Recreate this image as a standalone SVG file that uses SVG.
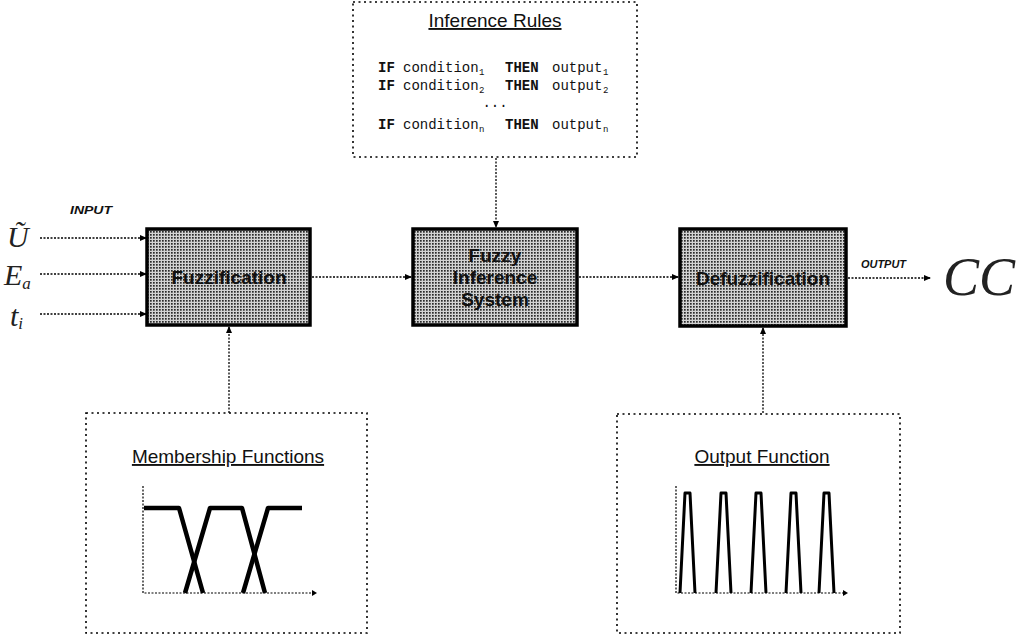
<svg xmlns="http://www.w3.org/2000/svg" width="1019" height="640" viewBox="0 0 1019 640">
<defs>
<pattern id="dots" width="3" height="3" patternUnits="userSpaceOnUse">
<rect width="3" height="3" fill="#d2d2d2"/>
<rect width="1.7" height="1.7" fill="#2a2a2a"/>
</pattern>
<marker id="arr" markerWidth="8" markerHeight="8" refX="6" refY="4" orient="auto" markerUnits="userSpaceOnUse">
<path d="M0,1 L7,4 L0,7 Z" fill="#000"/>
</marker>
<style>
.blk{fill:url(#dots);stroke:#000;stroke-width:3.5}
.dbox{fill:#fff;stroke:#000;stroke-width:1.6;stroke-dasharray:2 3.5}
.conn{fill:none;stroke:#000;stroke-width:1.3;stroke-dasharray:2 1.5;marker-end:url(#arr)}
.lbl{font-family:"Liberation Sans",Arial,sans-serif;font-weight:bold;font-size:19px;fill:#111;text-anchor:middle}
.ttl{font-family:"Liberation Sans",Arial,sans-serif;font-size:19px;fill:#111;text-anchor:middle;text-decoration:underline}
.mono{font-family:"Liberation Mono","Courier New",monospace;font-size:14px;fill:#111}
.kw{font-weight:bold}
.sub{font-size:9px}
.tag{font-family:"Liberation Sans",Arial,sans-serif;font-weight:bold;font-style:italic;font-size:11px;fill:#111}
.math{font-family:"Liberation Serif","Times New Roman",serif;font-style:italic;fill:#222}
.axis{fill:none;stroke:#000;stroke-width:1.2;stroke-dasharray:2 1.5}
.curve{fill:none;stroke:#000;stroke-width:4.5;stroke-linejoin:round}
.spike{fill:none;stroke:#000;stroke-width:3;stroke-linejoin:round}
</style>
</defs>

<g id="connectors">
<line class="conn" x1="40" y1="238" x2="146" y2="238"/>
<line class="conn" x1="40" y1="274" x2="146" y2="274"/>
<line class="conn" x1="40" y1="314" x2="146" y2="314"/>
<line class="conn" x1="312" y1="277" x2="411" y2="277"/>
<line class="conn" x1="579" y1="277" x2="678" y2="277"/>
<line class="conn" x1="848" y1="278" x2="930" y2="278"/>
<line class="conn" x1="496" y1="158" x2="496" y2="227"/>
<line class="conn" x1="229" y1="413" x2="229" y2="327"/>
<line class="conn" x1="763" y1="413" x2="763" y2="328"/>
</g>

<g id="inference-rules">
<rect class="dbox" x="353" y="2" width="284" height="155"/>
<text class="ttl" x="495" y="27">Inference Rules</text>
<text class="mono" y="72"><tspan class="kw" x="378">IF</tspan><tspan x="403">condition</tspan><tspan class="sub" x="479" dy="3">1</tspan><tspan class="kw" x="505" dy="-3">THEN</tspan><tspan x="552">output</tspan><tspan class="sub" x="603" dy="3">1</tspan></text>
<text class="mono" y="90"><tspan class="kw" x="378">IF</tspan><tspan x="403">condition</tspan><tspan class="sub" x="479" dy="3">2</tspan><tspan class="kw" x="505" dy="-3">THEN</tspan><tspan x="552">output</tspan><tspan class="sub" x="603" dy="3">2</tspan></text>
<text class="mono" x="495" y="107" text-anchor="middle" font-size="9">...</text>
<text class="mono" y="129"><tspan class="kw" x="378">IF</tspan><tspan x="403">condition</tspan><tspan class="sub" x="479" dy="3">n</tspan><tspan class="kw" x="505" dy="-3">THEN</tspan><tspan x="552">output</tspan><tspan class="sub" x="603" dy="3">n</tspan></text>
</g>

<g id="inputs">
<text class="tag" x="70" y="214" textLength="42" lengthAdjust="spacingAndGlyphs">INPUT</text>
<text class="math" x="7" y="247" font-size="30">Ũ</text>
<text class="math" x="4" y="285" font-size="30">E<tspan font-size="17" dy="4">a</tspan></text>
<text class="math" x="10" y="326" font-size="30">t<tspan font-size="17" dy="3">i</tspan></text>
</g>

<g id="fuzzification">
<rect class="blk" x="147" y="229" width="163" height="96"/>
<text class="lbl" x="229" y="284">Fuzzification</text>
</g>

<g id="fuzzy-inference-system">
<rect class="blk" x="413" y="229" width="164" height="96"/>
<text class="lbl" x="495" y="262">Fuzzy</text>
<text class="lbl" x="495" y="284">Inference</text>
<text class="lbl" x="495" y="306">System</text>
</g>

<g id="defuzzification">
<rect class="blk" x="680" y="229" width="166" height="97"/>
<text class="lbl" x="763" y="285">Defuzzification</text>
</g>

<g id="output">
<text class="tag" x="861" y="268" textLength="45" lengthAdjust="spacingAndGlyphs">OUTPUT</text>
<text class="math" x="943" y="295" font-size="54" fill="#555">CC</text>
</g>

<g id="membership-functions">
<rect class="dbox" x="86" y="413" width="281" height="220"/>
<text class="ttl" x="228" y="463">Membership Functions</text>
<polyline class="axis" points="143,486 143,593 312,593"/>
<path d="M312,590 L317,593 L312,596 Z" fill="#000"/>
<polyline class="curve" points="144,508 179,508 203,593"/>
<polyline class="curve" points="185,593 210,508 242,508 265,593"/>
<polyline class="curve" points="243,593 268,508 302,508"/>
</g>

<g id="output-function">
<rect class="dbox" x="617" y="414" width="283" height="219"/>
<text class="ttl" x="762" y="463">Output Function</text>
<polyline class="axis" points="676,486 676,593 843,593"/>
<path d="M843,590 L848,593 L843,596 Z" fill="#000"/>
<polyline class="spike" points="680,593 685,493 690,493 695,593"/>
<polyline class="spike" points="716,593 721,493 726,493 731,593"/>
<polyline class="spike" points="751,593 756,493 761,493 766,593"/>
<polyline class="spike" points="786,593 791,493 796,493 801,593"/>
<polyline class="spike" points="819,593 824,493 829,493 834,593"/>
</g>
</svg>
